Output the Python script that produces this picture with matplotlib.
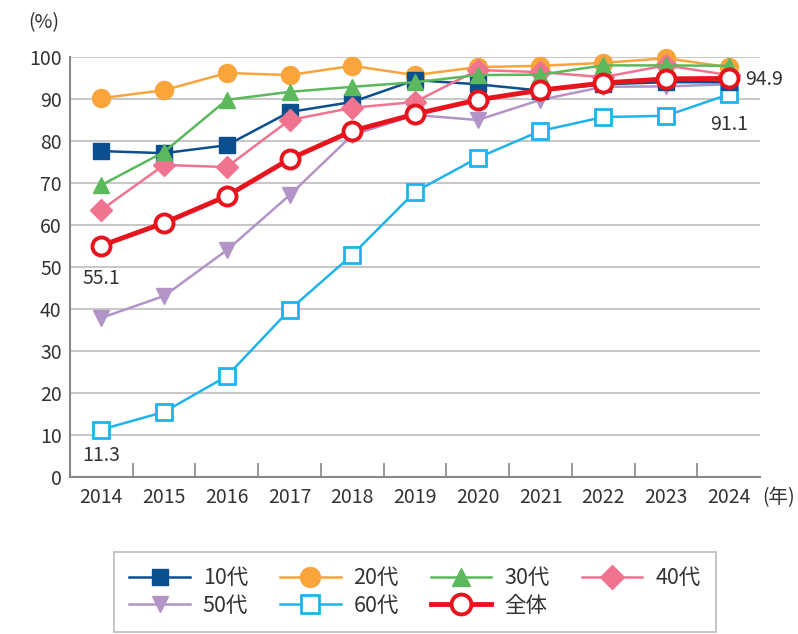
import matplotlib
matplotlib.use("Agg")
import matplotlib.pyplot as plt

plt.rcParams['font.family'] = ['Noto Sans CJK JP', 'DejaVu Sans']

years = [2014, 2015, 2016, 2017, 2018, 2019, 2020, 2021, 2022, 2023, 2024]

teens = [77.6, 77.1, 79.0, 86.9, 89.3, 94.5, 93.5, 92.0, 93.5, 94.0, 94.0]
twenties = [90.2, 92.1, 96.2, 95.7, 97.9, 95.7, 97.6, 97.9, 98.6, 99.7, 97.6]
thirties = [69.5, 77.4, 89.8, 91.7, 92.9, 94.0, 95.7, 95.8, 98.0, 98.0, 97.9]
forties = [63.6, 74.3, 73.8, 85.0, 87.9, 89.3, 96.9, 96.4, 95.2, 98.0, 95.7]
fifties = [37.9, 43.1, 54.0, 67.1, 81.4, 86.2, 85.0, 89.8, 92.9, 93.0, 93.5]
sixties = [11.3, 15.5, 24.0, 39.8, 52.9, 67.9, 76.0, 82.4, 85.7, 86.0, 91.1]
overall = [55.1, 60.5, 66.9, 75.7, 82.4, 86.4, 89.8, 92.1, 93.8, 94.8, 94.9]

fig = plt.figure(figsize=(7.98, 6.34), dpi=100)
ax = fig.add_axes([0.0877, 0.2476, 0.8647, 0.6625])

lines = {}
lines['50'] = ax.plot(years, fifties, color='#b394c8', lw=1.8, marker='v', ms=11,
                      label='50代', clip_on=False, zorder=3)[0]
lines['60'] = ax.plot(years, sixties, color='#1fb3ec', lw=1.8, marker='s', ms=12,
                      mfc='white', mec='#1fb3ec', mew=2, label='60代', clip_on=False, zorder=3)[0]
lines['10'] = ax.plot(years, teens, color='#0b4f8f', lw=1.8, marker='s', ms=11,
                      label='10代', clip_on=False, zorder=4)[0]
lines['40'] = ax.plot(years, forties, color='#f07490', lw=1.8, marker='D', ms=11,
                      label='40代', clip_on=False, zorder=4)[0]
lines['30'] = ax.plot(years, thirties, color='#5cb85c', lw=1.8, marker='^', ms=12,
                      label='30代', clip_on=False, zorder=4)[0]
lines['20'] = ax.plot(years, twenties, color='#f9a53c', lw=1.8, marker='o', ms=13,
                      label='20代', clip_on=False, zorder=3)[0]
lines['all'] = ax.plot(years, overall, color='#e8141d', lw=3.5, marker='o', ms=13,
                       mfc='white', mec='#e8141d', mew=2.8, label='全体', clip_on=False, zorder=6)[0]

ax.set_xlim(2013.5, 2024.5)
ax.set_ylim(0, 100)
ax.set_yticks(range(0, 101, 10))
ax.set_xticks(years)
ax.set_xticks([y + 0.5 for y in years[:-1]], minor=True)
ax.tick_params(axis='x', which='major', length=0, labelsize=14, colors='#333333', pad=7)
ax.tick_params(axis='x', which='minor', direction='in', length=10, color='#888888', width=1.2)
ax.tick_params(axis='y', length=0, labelsize=14, colors='#333333', pad=6)
ax.grid(axis='y', color='#c8c8c8', lw=1.5)
ax.set_axisbelow(True)
for s in ['top', 'right']:
    ax.spines[s].set_visible(False)
for s in ['left', 'bottom']:
    ax.spines[s].set_color('#888888')
    ax.spines[s].set_linewidth(1.5)

ax.annotate('55.1', (2014, overall[0]), xytext=(0, -24), textcoords='offset points',
            ha='center', va='center', fontsize=14, color='#333333')
ax.annotate('11.3', (2014, sixties[0]), xytext=(0, -19), textcoords='offset points',
            ha='center', va='center', fontsize=14, color='#333333')
ax.annotate('94.9', (2024, overall[-1]), xytext=(12, -1), textcoords='offset points',
            ha='left', va='center', fontsize=14, color='#333333')
ax.annotate('91.1', (2024, sixties[-1]), xytext=(0, -22), textcoords='offset points',
            ha='center', va='center', fontsize=14, color='#333333')

fig.text(0.035, 0.965, '(%)', fontsize=14, color='#333333', ha='left', va='center')
fig.text(0.955, 0.215, '(年)', fontsize=14, color='#333333', ha='left', va='center')

order = ['10', '50', '20', '60', '30', 'all', '40']
handles = [lines[k] for k in order]
leg = fig.legend(handles=handles, labels=[h.get_label() for h in handles], ncol=4,
                 loc='center', fontsize=15.5,
                 frameon=True, fancybox=False, edgecolor='#aaaaaa',
                 handlelength=2.8, handletextpad=0.6, columnspacing=1.5,
                 borderpad=0.7, labelspacing=0.25, markerscale=1.1)
leg.set_bbox_to_anchor((0.52, 0.066), transform=fig.transFigure)
leg.get_frame().set_linewidth(1.2)
for t in leg.get_texts():
    t.set_color('#333333')

fig.savefig('out.png', dpi=100)
